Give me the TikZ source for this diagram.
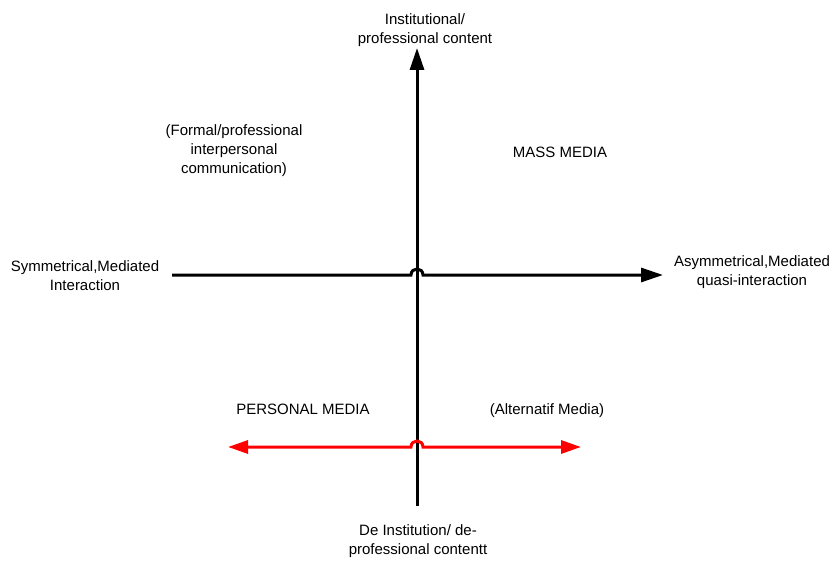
\documentclass[tikz,border=0pt]{standalone}
\usepackage{fontspec}
\setmainfont{Liberation Sans}
\usetikzlibrary{arrows.meta}
\begin{document}
\begin{tikzpicture}[x=1pt,y=-1pt,
  lbl/.style={inner sep=0pt,align=center,font=\fontsize{15}{19}\selectfont},
  axis/.style={line width=3pt,-{Triangle[length=22pt,width=14pt]}},
  redaxis/.style={line width=3pt,red,{Triangle[length=20pt,width=13pt]}-{Triangle[length=20pt,width=13pt]}}]
\useasboundingbox (0,0) rectangle (834,561);
% coordinates
\coordinate (vb) at (417,506);
\coordinate (vt) at (417,48);
\coordinate (hl) at (172,275);
\coordinate (hr) at (663,275);
\coordinate (rl) at (228,447);
\coordinate (rr) at (581,447);
% vertical axis
\draw[axis] (vb) -- (vt);
% horizontal axis with hop
\draw[axis] (hl) -- (411,275) .. controls (411,267) and (423,267) .. (423,275) -- (hr);
% red axis with hop
\draw[redaxis] (rl) -- (411,447) .. controls (411,439) and (423,439) .. (423,447) -- (rr);
% labels
\node[lbl] (top) at (425,30) {Institutional/\\professional content};
\node[lbl] (formal) at (234,151) {(Formal/professional\\interpersonal\\communication)};
\node[lbl] (mass) at (560,152) {MASS MEDIA};
\node[lbl] (sym) at (85,276) {Symmetrical,Mediated\\Interaction};
\node[lbl] (asym) at (752,272) {Asymmetrical,Mediated\\quasi-interaction};
\node[lbl] (pers) at (303,409) {PERSONAL MEDIA};
\node[lbl] (alt) at (547,411) {(Alternatif Media)};
\node[lbl] (bot) at (418,541) {De Institution/ de-\\professional contentt};
\end{tikzpicture}
\end{document}
